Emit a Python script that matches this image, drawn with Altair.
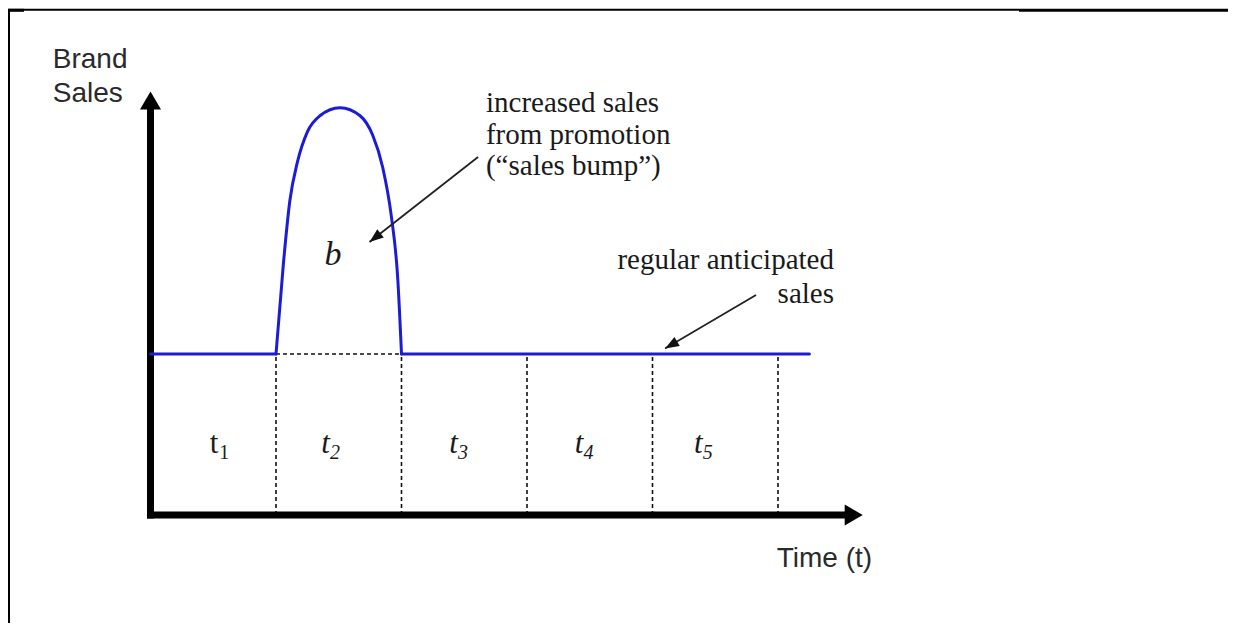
import math
import altair as alt
import pandas as pd

# ---------------- data ----------------
period_bounds = [1, 2, 3, 4, 5]          # period boundaries (time units)
baseline_level = 100                      # regular anticipated sales

flat_t = [0.0, 1.0, 2.0, 5.25]
flat_sales = [100, 100, 100, 100]
flat_seg = ["before", "before", "after", "after"]

bump_t = [1.00, 1.06, 1.11, 1.17, 1.25, 1.35, 1.51, 1.67, 1.77, 1.85, 1.92, 1.97, 2.00]
bump_sales = [100, 157, 195, 219, 238, 248, 253, 248, 236, 216, 185, 147, 100]

period_label_t = [0.54, 1.43, 2.45, 3.45, 4.40]
period_label_main = ["t", "t", "t", "t", "t"]
period_label_sub = ["1", "2", "3", "4", "5"]
period_label_italic = [False, True, True, True, True]
period_label_sales = 38.5

axis_y_top = 263
axis_x_end = 5.675

arrow_tail_t = [2.61, 4.825]
arrow_tail_sales = [222.4, 136.6]
arrow_tip_t = [1.745, 4.10]
arrow_tip_sales = [169.6, 103.4]

bump_note = ["increased sales", "from promotion", "(\u201csales bump\u201d)"]
bump_note_t = 2.673
bump_note_sales = [250.3, 230.7, 211.2]
regular_note = ["regular anticipated", "sales"]
regular_note_t = 5.446
regular_note_sales = [153.1, 131.4]
y_title = ["Brand", "Sales"]
y_title_t = -0.779
y_title_sales = [277.5, 256.7]
x_title = ["Time (t)"]
x_title_t = 4.99
x_title_sales = [-32.5]
area_label = ["b"]
area_label_t = 1.454
area_label_sales = [155.3]

# ---------------- layout ----------------
W, H = 1220, 615
PX_T0, PX_PER_T = 150.5, 125.5     # page pixel of t=0, pixels per time unit
PY_S0, PX_PER_S = 515.0, 1.61      # page pixel of sales=0, pixels per sales unit
x_dom = [(8 - PX_T0) / PX_PER_T, (8 + W - PX_T0) / PX_PER_T]
y_dom = [(PY_S0 - (8 + H)) / PX_PER_S, (PY_S0 - 8) / PX_PER_S]

xs = alt.Scale(domain=x_dom, nice=False, zero=False)
ys = alt.Scale(domain=y_dom, nice=False, zero=False)
X = lambda f="t": alt.X(f"{f}:Q", scale=xs, axis=None)
Y = lambda f="s": alt.Y(f"{f}:Q", scale=ys, axis=None)

BLUE = "#1c1cd4"
INK = "#1a1a1a"
SERIF = "Liberation Serif"
SANS = "Liberation Sans"

# ---------------- frame ----------------
one = pd.DataFrame({"k": [0]})
frame = alt.layer(
    alt.Chart(one).mark_rule(color="black", strokeWidth=2).encode(
        x=alt.value(1), x2=alt.value(1), y=alt.value(1), y2=alt.value(H)),
    alt.Chart(one).mark_rule(color="black", strokeWidth=2).encode(
        x=alt.value(0), x2=alt.value(1011), y=alt.value(1.8), y2=alt.value(1.8)),
    alt.Chart(one).mark_rule(color="black", strokeWidth=3).encode(
        x=alt.value(1011), x2=alt.value(W), y=alt.value(2.3), y2=alt.value(2.3)),
    alt.Chart(one).mark_rule(color="black", strokeWidth=3).encode(
        x=alt.value(0), x2=alt.value(16), y=alt.value(2.3), y2=alt.value(2.3)),
)

# ---------------- dashed guides ----------------
vdash = pd.DataFrame({"t": period_bounds, "s": [0] * 5, "s2": [baseline_level] * 5})
hdash = pd.DataFrame({"t": [1], "t2": [2], "s": [baseline_level]})
guides = alt.layer(
    alt.Chart(vdash).mark_rule(color="#111111", strokeWidth=1.6, strokeDash=[4, 3]).encode(
        x=X(), y=Y(), y2="s2:Q"),
    alt.Chart(hdash).mark_rule(color="#111111", strokeWidth=1.6, strokeDash=[4, 3]).encode(
        x=X(), x2="t2:Q", y=Y()),
)

# ---------------- axes with arrowheads ----------------
ax_y = pd.DataFrame({"t": [0], "s": [0], "s2": [axis_y_top - 11]})
ax_x = pd.DataFrame({"t": [0], "t2": [axis_x_end - 0.16], "s": [0]})
heads = pd.DataFrame({"t": [0, axis_x_end], "s": [axis_y_top, 0], "angle": [0, 90]})
axes = alt.layer(
    alt.Chart(ax_y).mark_rule(color="black", strokeWidth=7, strokeCap="square").encode(
        x=X(), y=Y(), y2="s2:Q"),
    alt.Chart(ax_x).mark_rule(color="black", strokeWidth=7, strokeCap="square").encode(
        x=X(), x2="t2:Q", y=Y()),
    alt.Chart(heads).mark_point(shape="M0,0L1.17,2L-1.17,2Z", filled=True, size=324,
                                color="black", opacity=1, strokeWidth=0).encode(
        x=X(), y=Y(), angle=alt.Angle("angle:Q", scale=None)),
)

# ---------------- sales curve ----------------
flat = pd.DataFrame({"t": flat_t, "s": flat_sales, "seg": flat_seg})
bump = pd.DataFrame({"t": bump_t, "s": bump_sales})
curve = alt.layer(
    alt.Chart(flat).mark_line(color=BLUE, strokeWidth=3, strokeCap="round").encode(
        x=X(), y=Y(), detail="seg:N"),
    alt.Chart(bump).mark_line(color=BLUE, strokeWidth=3, strokeCap="round",
                              interpolate="monotone").encode(
        x=X(), y=Y(), order="t:Q"),
)

# ---------------- annotation arrows ----------------
ang = []
for tt, ts, pt, ps in zip(arrow_tail_t, arrow_tail_sales, arrow_tip_t, arrow_tip_sales):
    dx = (pt - tt) * PX_PER_T
    dy = -(ps - ts) * PX_PER_S
    ang.append(math.degrees(math.atan2(dx, -dy)) % 360)
arr = pd.DataFrame({"t": arrow_tail_t, "s": arrow_tail_sales,
                    "t2": arrow_tip_t, "s2": arrow_tip_sales, "angle": ang})
arrows = alt.layer(
    alt.Chart(arr).mark_rule(color="#222222", strokeWidth=1.8).encode(
        x=X(), y=Y(), x2="t2:Q", y2="s2:Q"),
    alt.Chart(arr).mark_point(shape="M0,0L0.75,2L-0.75,2Z", filled=True, size=196,
                              color="#111111", opacity=1, strokeWidth=0).encode(
        x=X("t2"), y=Y("s2"), angle=alt.Angle("angle:Q", scale=None)),
)

# ---------------- text ----------------
def text_layer(lines, t, sales, font, size, align, color=INK, style="normal"):
    df = pd.DataFrame({"text": lines, "t": [t] * len(lines), "s": sales})
    return alt.Chart(df).mark_text(font=font, fontSize=size, align=align,
                                   baseline="alphabetic", color=color,
                                   fontStyle=style).encode(
        x=X(), y=Y(), text="text:N")

labels = pd.DataFrame({"t": period_label_t, "main": period_label_main,
                       "sub": period_label_sub, "italic": period_label_italic,
                       "s": [period_label_sales] * 5})
up = labels[~labels["italic"]]
it = labels[labels["italic"]]

period_text = alt.layer(
    alt.Chart(up).mark_text(font=SERIF, fontSize=31, align="right", baseline="alphabetic",
                            color=INK).encode(x=X(), y=Y(), text="main:N"),
    alt.Chart(up).mark_text(font=SERIF, fontSize=20, align="left", baseline="alphabetic",
                            color=INK, dx=1, dy=6).encode(x=X(), y=Y(), text="sub:N"),
    alt.Chart(it).mark_text(font=SERIF, fontSize=31, fontStyle="italic", align="right",
                            baseline="alphabetic", color=INK).encode(x=X(), y=Y(), text="main:N"),
    alt.Chart(it).mark_text(font=SERIF, fontSize=20, fontStyle="italic", align="left",
                            baseline="alphabetic", color=INK, dx=0, dy=6).encode(
        x=X(), y=Y(), text="sub:N"),
)

texts = alt.layer(
    text_layer(y_title, y_title_t, y_title_sales, SANS, 28, "left", color="#2a2a2a"),
    text_layer(x_title, x_title_t, x_title_sales, SANS, 28, "left", color="#2a2a2a"),
    text_layer(bump_note, bump_note_t, bump_note_sales, SERIF, 29, "left"),
    text_layer(regular_note, regular_note_t, regular_note_sales, SERIF, 29, "right"),
    text_layer(area_label, area_label_t, area_label_sales, SERIF, 34, "center", style="italic"),
    period_text,
)

chart = alt.layer(frame, guides, axes, curve, arrows, texts).properties(
    width=W, height=H, padding=0, autosize=alt.AutoSizeParams(type="none"),
    background="white",
).configure_view(stroke=None)

chart.save("out.html", embed_options={"renderer": "svg", "actions": False})
